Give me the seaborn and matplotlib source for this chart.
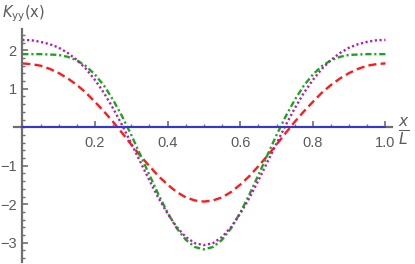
import numpy as np
import pandas as pd
import matplotlib
matplotlib.use("Agg")
import matplotlib.pyplot as plt
import seaborn as sns
from matplotlib.ticker import MultipleLocator, FixedLocator

# x positions (x/L)
x_vals = [round(0.025 * k, 3) for k in range(41)]

# half curves from x=0 to 0.5, mirrored for 0.5..1
red_half = [1.66, 1.64, 1.60, 1.52, 1.41, 1.27, 1.10, 0.90, 0.66, 0.41, 0.14,
            -0.15, -0.45, -0.74, -1.01, -1.27, -1.49, -1.68, -1.82, -1.90, -1.93]
purple_half = [2.27, 2.26, 2.22, 2.16, 2.07, 1.93, 1.75, 1.52, 1.23, 0.89, 0.49,
               0.05, -0.42, -0.90, -1.38, -1.84, -2.24, -2.59, -2.85, -3.01, -3.06]
green_half = [1.90, 1.90, 1.90, 1.89, 1.88, 1.83, 1.74, 1.59, 1.37, 1.08, 0.71,
              0.28, -0.20, -0.72, -1.24, -1.75, -2.22, -2.62, -2.92, -3.11, -3.17]
blue_x = [0.0, 1.0]
blue_y = [0.0, 0.0]

red_y = red_half + red_half[-2::-1]
purple_y = purple_half + purple_half[-2::-1]
green_y = green_half + green_half[-2::-1]

x_ticks = [0.2, 0.4, 0.6, 0.8, 1.0]
x_tick_labels = ["0.2", "0.4", "0.6", "0.8", "1.0"]
y_ticks = [-3, -2, -1, 1, 2]
y_tick_labels = ["\u22123", "\u22122", "\u22121", "1", "2"]

sns.set_style("white")
plt.rcParams['font.family'] = ['Liberation Sans', 'DejaVu Sans']

fig = plt.figure(figsize=(4.15, 2.64), dpi=100)
ax = fig.add_axes([14/415, 1 - 262/264, 378/415, 233/264])
ax.set_facecolor("none")

df_r = pd.DataFrame({"x": x_vals, "y": red_y})
df_g = pd.DataFrame({"x": x_vals, "y": green_y})
df_p = pd.DataFrame({"x": x_vals, "y": purple_y})
df_b = pd.DataFrame({"x": blue_x, "y": blue_y})

lw = 1.7
sns.lineplot(data=df_r, x="x", y="y", ax=ax, color="#ff1a1a", lw=lw,
             linestyle=(0, (3.4, 1.8)), sort=False)
sns.lineplot(data=df_g, x="x", y="y", ax=ax, color="#1aa61a", lw=lw,
             linestyle=(0, (2.6, 1.2, 0.9, 1.2)), sort=False)
sns.lineplot(data=df_p, x="x", y="y", ax=ax, color="#b31ab3", lw=lw,
             linestyle=(0, (0.9, 1.1)), sort=False)
sns.lineplot(data=df_b, x="x", y="y", ax=ax, color="#3535d5", lw=1.4, sort=False,
             zorder=5)

ax.set_xlim(-0.023, 1.018)
ax.set_ylim(-3.499, 2.553)

for s in ["top", "right"]:
    ax.spines[s].set_visible(False)
ax.spines["left"].set_position(("data", 0))
ax.spines["bottom"].set_position(("data", 0))
for s in ["left", "bottom"]:
    ax.spines[s].set_color("#6e6e6e")
    ax.spines[s].set_linewidth(1.6)

ax.xaxis.set_major_locator(FixedLocator(x_ticks))
ax.set_xticklabels(x_tick_labels)
ax.xaxis.set_minor_locator(MultipleLocator(0.05))
ax.yaxis.set_major_locator(FixedLocator(y_ticks))
ax.set_yticklabels(y_tick_labels)
ax.yaxis.set_minor_locator(MultipleLocator(0.2))

ax.tick_params(axis="both", which="both", bottom=True, left=True, top=False, right=False)
ax.tick_params(axis="x", which="major", direction="in", length=4, width=1.2,
               color="#6e6e6e", labelcolor="#5a5a5a", labelsize=10.5, pad=6)
ax.tick_params(axis="x", which="minor", direction="in", length=2.3, width=1,
               color="#6e6e6e")
ax.tick_params(axis="y", which="major", direction="in", length=4.5, width=1.2,
               color="#6e6e6e", labelcolor="#5a5a5a", labelsize=10.5, pad=4)
ax.tick_params(axis="y", which="minor", direction="in", length=2.5, width=1,
               color="#6e6e6e")
ax.set_xlabel("")
ax.set_ylabel("")

fig.text(2/415, 1 - 14/264, r"$K_{\mathrm{yy}}(\mathrm{x})$", color="#5a5a5a",
         fontsize=10.5, va="center", ha="left")
fig.text(404/415, 1 - 131/264, r"$\frac{x}{L}$", color="#5a5a5a",
         fontsize=16, va="center", ha="center")

fig.savefig("out.png", dpi=100)
